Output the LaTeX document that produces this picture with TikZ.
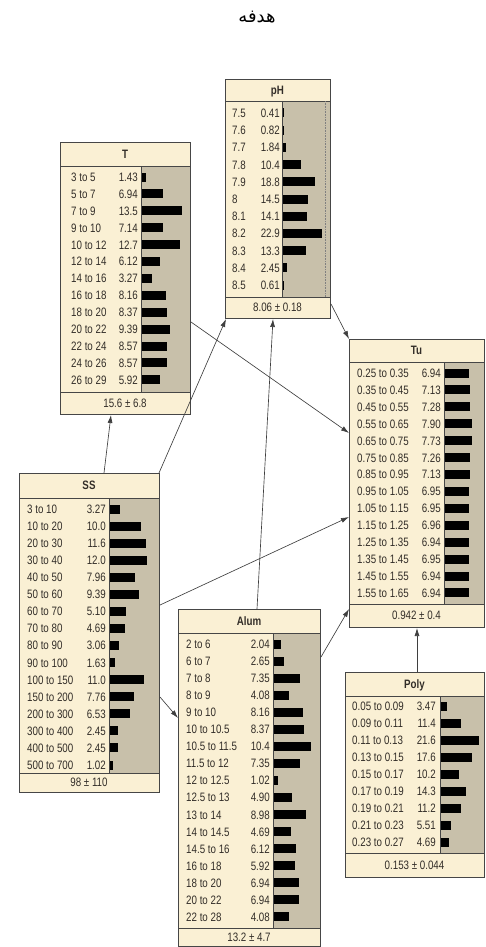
\documentclass[tikz,border=0pt]{standalone}
\usepackage{fontspec}
\setmainfont{Liberation Sans}[FakeStretch=0.8]
\newfontfamily\arabicfont[Script=Arabic]{DejaVu Sans}
\TeXXeTstate=1
\usetikzlibrary{arrows.meta,calc}
\definecolor{cream}{RGB}{250,240,212}
\definecolor{bodygray}{RGB}{200,192,170}
\definecolor{edgecol}{RGB}{70,70,70}
\definecolor{txtcol}{RGB}{50,45,40}
\tikzset{
  lab/.style={inner sep=0pt, text=txtcol, font=\fontsize{12.2}{13}\selectfont},
  ttl/.style={inner sep=0pt, text=txtcol, font=\fontsize{12.2}{13}\selectfont\bfseries},
  boxframe/.style={draw=edgecol, line width=1pt, inner sep=0pt, anchor=north west},
  sep/.style={draw=edgecol, line width=0.8pt},
  link/.style={draw=edgecol!90!black, line width=0.65pt, -{Latex[length=8pt,width=5pt]}}
}
% #1 name, #2 left, #3 top, #4 right, #5 bottom, #6 title bottom, #7 footer top, #8 gray x, #9 title
\newcommand\netnode[9]{%
  \fill[cream] (#2,#3) rectangle (#4,#5);
  \fill[bodygray] (#8,#6) rectangle (#4,#7);
  \draw[sep] (#2,#6) -- (#4,#6);
  \draw[sep] (#2,#7) -- (#4,#7);
  \draw[sep] (#8,#6) -- (#8,#7);
  \node[boxframe, minimum width={(#4-#2)*1pt}, minimum height={(#5-#3)*1pt}] (#1) at (#2,#3) {};
  \node[ttl, anchor=base] (#1-title) at ({(#2+#4)/2},{(#3+#6)/2+4.3}) {#9};
}
% #1 name, #2 left, #3 right, #4 footer top, #5 bottom, #6 text
\newcommand\netfoot[6]{%
  \node[lab, anchor=base] (#1-foot) at ({(#2+#3)/2},{(#4+#5)/2+4.3}) {#6};
}
% #1 label x, #2 value right x, #3 bar x, #4 first row y, #5 row step, #6 bar scale, #7 list
\newcommand\netrows[7]{%
  \foreach \lab/\val [count=\i from 0] in {#7}{%
    \pgfmathsetmacro\ry{#4+\i*#5}%
    \pgfmathsetmacro\bw{\val*#6}%
    \node[lab, anchor=base west] at (#1,\ry+4.4) {\lab};
    \node[lab, anchor=base east] at (#2,\ry+4.4) {\val};
    \fill[black] (#3+1,\ry-4.5) rectangle ++(\bw,9);
  }%
}
\begin{document}
\begin{tikzpicture}[x=1pt,y=-1pt]
\useasboundingbox (0,0) rectangle (485,947);

\node[inner sep=0pt, font=\fontsize{18}{20}\selectfont] (goal) at (257,17) {\arabicfont\beginR هدفه\endR};

% pH
\netnode{pH}{225}{79}{330}{318}{101}{297}{282}{pH}
\draw[gray, densely dotted, line width=0.6pt] (325,101) -- (325,297);
\netrows{232}{280}{282}{113}{17.2}{1.72}{7.5/0.41, 7.6/0.82, 7.7/1.84, 7.8/10.4, 7.9/18.8, 8/14.5, 8.1/14.1, 8.2/22.9, 8.3/13.3, 8.4/2.45, 8.5/0.61}
\netfoot{pH}{225}{330}{297}{318}{8.06 ± 0.18}

% T
\netnode{T}{60}{142}{190}{414}{166}{392}{141}{T}
\netrows{71}{138}{141}{177}{16.9}{2.96}{3 to 5/1.43, 5 to 7/6.94, 7 to 9/13.5, 9 to 10/7.14, 10 to 12/12.7, 12 to 14/6.12, 14 to 16/3.27, 16 to 18/8.16, 18 to 20/8.37, 20 to 22/9.39, 22 to 24/8.57, 24 to 26/8.57, 26 to 29/5.92}
\netfoot{T}{60}{190}{392}{414}{15.6 ± 6.8}

% Tu
\netnode{Tu}{349}{339}{484}{627}{362}{604}{444}{Tu}
\netrows{357}{441}{444}{373}{16.92}{3.45}{0.25 to 0.35/6.94, 0.35 to 0.45/7.13, 0.45 to 0.55/7.28, 0.55 to 0.65/7.90, 0.65 to 0.75/7.73, 0.75 to 0.85/7.26, 0.85 to 0.95/7.13, 0.95 to 1.05/6.95, 1.05 to 1.15/6.95, 1.15 to 1.25/6.96, 1.25 to 1.35/6.94, 1.35 to 1.45/6.95, 1.45 to 1.55/6.94, 1.55 to 1.65/6.94}
\netfoot{Tu}{349}{484}{604}{627}{0.942 ± 0.4}

% SS
\netnode{SS}{19}{473}{159}{792}{498}{773}{109}{SS}
\netrows{27}{106}{109}{509}{17.07}{3.1}{3 to 10/3.27, 10 to 20/10.0, 20 to 30/11.6, 30 to 40/12.0, 40 to 50/7.96, 50 to 60/9.39, 60 to 70/5.10, 70 to 80/4.69, 80 to 90/3.06, 90 to 100/1.63, 100 to 150/11.0, 150 to 200/7.76, 200 to 300/6.53, 300 to 400/2.45, 400 to 500/2.45, 500 to 700/1.02}
\netfoot{SS}{19}{159}{773}{792}{98 ± 110}

% Alum
\netnode{Alum}{178}{609}{320}{946}{633}{928}{273}{Alum}
\netrows{186}{270}{273}{644}{17.06}{3.6}{2 to 6/2.04, 6 to 7/2.65, 7 to 8/7.35, 8 to 9/4.08, 9 to 10/8.16, 10 to 10.5/8.37, 10.5 to 11.5/10.4, 11.5 to 12/7.35, 12 to 12.5/1.02, 12.5 to 13/4.90, 13 to 14/8.98, 14 to 14.5/4.69, 14.5 to 16/6.12, 16 to 18/5.92, 18 to 20/6.94, 20 to 22/6.94, 22 to 28/4.08}
\netfoot{Alum}{178}{320}{928}{946}{13.2 ± 4.7}

% Poly
\netnode{Poly}{345}{672}{484}{877}{696}{853}{440}{Poly}
\netrows{352}{436}{440}{706}{17}{1.75}{0.05 to 0.09/3.47, 0.09 to 0.11/11.4, 0.11 to 0.13/21.6, 0.13 to 0.15/17.6, 0.15 to 0.17/10.2, 0.17 to 0.19/14.3, 0.19 to 0.21/11.2, 0.21 to 0.23/5.51, 0.23 to 0.27/4.69}
\netfoot{Poly}{345}{484}{853}{877}{0.153 ± 0.044}

% connectors
\draw[link] ([xshift=85pt]SS.north west) -- ([xshift=51pt]T.south west);
\draw[link] ([xshift=-1pt]SS.north east) -- ([xshift=1pt]pH.south west);
\draw[link] ([xshift=79pt]Alum.north west) -- ([xshift=48pt]pH.south west);
\draw[link] ([yshift=15pt]pH.south east) -- (Tu.north west);
\draw[link] ([yshift=-180pt]T.north east) -- ([yshift=-94pt]Tu.north west);
\draw[link] ([yshift=-132pt]SS.north east) -- ([yshift=-178pt]Tu.north west);
\draw[link] ([yshift=-224pt]SS.north east) -- ([yshift=-109pt]Alum.north west);
\draw[link] ([yshift=-48pt]Alum.north east) -- ([yshift=19pt]Tu.south west);
\draw[link] ([xshift=72pt]Poly.north west) -- ([xshift=68pt]Tu.south west);
\end{tikzpicture}
\end{document}
